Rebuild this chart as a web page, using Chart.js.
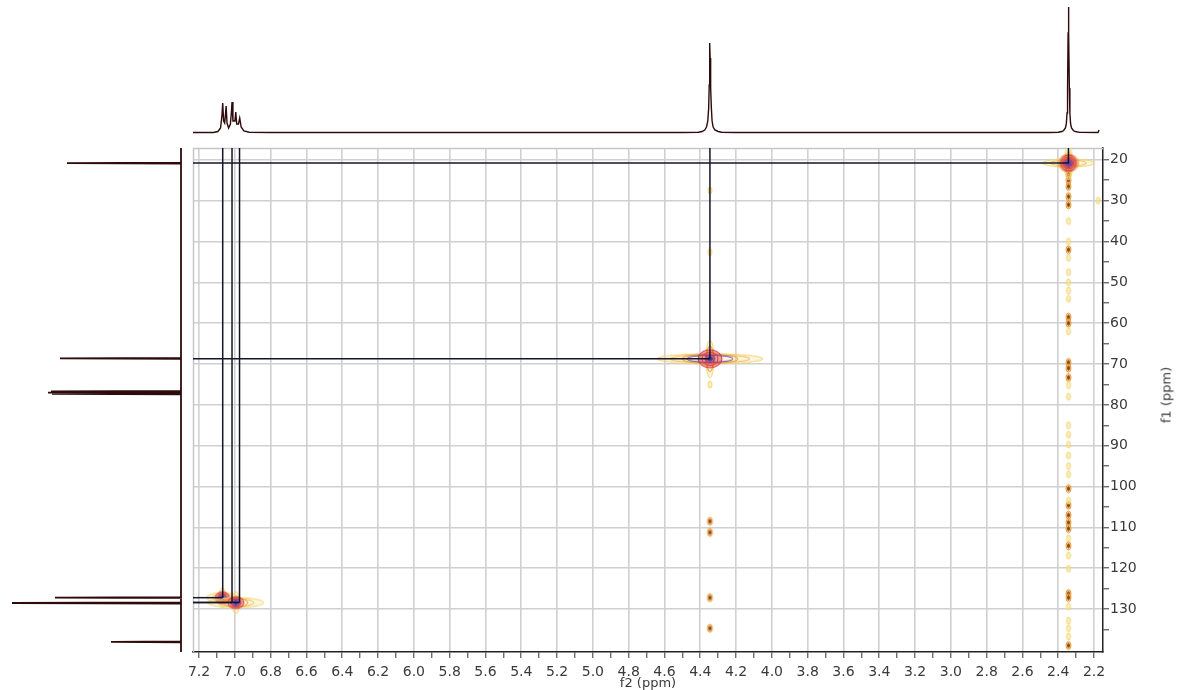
<!DOCTYPE html>
<html>
<head>
<meta charset="utf-8">
<script src="https://cdn.jsdelivr.net/npm/chart.js@4.4.1/dist/chart.umd.min.js"></script>
<style>
  html, body { margin: 0; padding: 0; background: #fff; }
  #wrap { position: relative; width: 1178px; height: 690px; overflow: hidden; }
  #wrap canvas { position: absolute; left: 0; top: 0; }
  #f1 { position: absolute; left: 1166px; top: 395px; transform: translate(-50%, -50%) rotate(-90deg);
        font: 13px "DejaVu Sans", sans-serif; color: #3a3a3a; white-space: nowrap; }
</style>
</head>
<body>
<div id="wrap">
  <canvas id="main" width="1178" height="690"></canvas>
  <canvas id="topSpec" width="1178" height="148"></canvas>
  <canvas id="leftSpec" width="193" height="690"></canvas>
  <div id="f1">f1 (ppm)</div>
</div>
<script>
// ---- axes (ppm) ----
const xMajor = [7.2, 7.0, 6.8, 6.6, 6.4, 6.2, 6.0, 5.8, 5.6, 5.4, 5.2, 5.0, 4.8, 4.6, 4.4, 4.2,
                4.0, 3.8, 3.6, 3.4, 3.2, 3.0, 2.8, 2.6, 2.4, 2.2]
const yMajor = [20, 30, 40, 50, 60, 70, 80, 90, 100, 110, 120, 130]
const X_MIN = 2.15, X_MAX = 7.234
const Y_MIN = 17.1, Y_MAX = 140.5

// ---- 1H projection (top): ppm / intensity ----
const hPpm = [7.234, 7.12, 7.095, 7.08, 7.072, 7.068, 7.063, 7.057, 7.052, 7.049, 7.044, 7.035, 7.025,
              7.019, 7.016, 7.011, 7.0, 6.995, 6.99, 6.98, 6.973, 6.965, 6.95, 6.92, 6.8,
              4.5, 4.41, 4.39, 4.375, 4.365, 4.358, 4.353, 4.350, 4.348, 4.3465, 4.345, 4.343, 4.341,
              4.338, 4.334, 4.328, 4.318, 4.30, 4.28, 4.2,
              2.45, 2.40, 2.38, 2.37, 2.36, 2.355, 2.351, 2.348, 2.345, 2.343, 2.341, 2.338, 2.335,
              2.331, 2.326, 2.316, 2.305, 2.28, 2.178, 2.172]
const hInt = [0.5, 0.5, 1.5, 5, 18, 30, 12, 10, 20, 27, 10, 5, 9,
              22, 31, 12, 12, 21, 9, 9, 15, 6, 2, 0.8, 0.5,
              0.5, 0.8, 1.5, 3, 6, 12, 25, 48, 75, 90, 75, 52, 45,
              25, 12, 6, 3, 1.5, 0.8, 0.5,
              0.5, 0.8, 1.5, 2.5, 5, 9, 20, 45, 100, 126, 100, 45, 20,
              9, 5, 2.5, 1.5, 0.6, 0.5, 3]

// ---- 13C projection (left) ----
const cPpm = [20.8, 68.6, 76.7, 77.0, 77.3, 127.2, 128.5, 138.0]
const cInt = [114, 121, 130, 133, 129, 126, 169, 70]

// ---- HSQC cross peaks ----
const peakH = [2.343, 4.346, 7.07, 6.995]
const peakC = [20.8, 68.7, 127.2, 128.4]

// correlation guide lines
const lineH = [2.343, 4.346, 7.068, 7.016, 6.974]
const lineC = [20.8, 68.7, 127.2, 128.4, 128.4]

// t1-noise streaks (13C ppm) along the methyl and CH2 columns
const streak234Faint = [35, 40, 44, 47.5, 50, 52, 54, 62, 75.2, 78, 85, 87.3, 89.7, 92.4, 95, 97,
                        103.4, 112.7, 116.9, 120.1, 129.4, 132.8, 134.7, 136.7]
const streak234Strong = [23.5, 25, 26.5, 29, 31, 42, 58.5, 60, 69.6, 71, 73.3, 100.5, 104.6, 107,
                         108.8, 110.3, 114.5, 126.2, 127.2, 138.9]
const streak435Faint = [27.5, 42.6, 75]
const streak435Strong = [108.5, 111.2, 127.2, 134.7]
const strayH = [2.177], strayC = [30]

// ---- helpers ----
const FONT = 'DejaVu Sans'
const SPEC = '#2e0a0a'

function withMinor(major, min, max) {
  const out = []
  const lo = Math.min(min, max), hi = Math.max(min, max)
  const step = major[1] - major[0]
  const before = +(major[0] - step / 2).toFixed(3)
  if (before >= lo && before <= hi) out.push({ value: before, minor: true })
  major.forEach((v, i) => {
    out.push({ value: v })
    const mid = i < major.length - 1 ? (v + major[i + 1]) / 2 : v + step / 2
    const m = +mid.toFixed(3)
    if (m >= lo && m <= hi) out.push({ value: m, minor: true })
  })
  return out
}

// contour sprite: list of [rx, ry, stroke, fill]
const YEL = '#f2d472', LOR = '#f0bb58', ORA = '#ea9438', RED = '#d8343a', MAG = '#b02f6c', PUR = '#6a3ea8', BLU = '#2b3dc2'
const fY = 'rgba(248,226,140,0.3)', fO = 'rgba(240,170,80,0.4)', fR = 'rgba(220,55,55,0.45)', fM = 'rgba(176,47,108,0.5)'
function sprite(levels) {
  let w = 0, h = 0
  levels.forEach(l => { w = Math.max(w, l[0]); h = Math.max(h, l[1]) })
  const c = document.createElement('canvas')
  c.width = Math.ceil(w * 2 + 4); c.height = Math.ceil(h * 2 + 4)
  const g = c.getContext('2d')
  const cx = c.width / 2, cy = c.height / 2
  levels.forEach(([rx, ry, stroke, fill]) => {
    g.beginPath()
    g.ellipse(cx, cy, rx, ry, 0, 0, Math.PI * 2)
    if (fill) { g.fillStyle = fill; g.fill() }
    g.strokeStyle = stroke; g.lineWidth = 1; g.stroke()
  })
  return c
}

const peakSprites = [
  sprite([[26, 4, YEL, fY], [4, 17, YEL, fY], [18, 3, LOR], [3, 12, LOR], [10, 9, ORA, fO],
          [8, 8, RED, fR], [6, 6, RED], [4.5, 4.5, MAG, fM], [3, 3, PUR], [1.5, 1.5, BLU, BLU]]),
  sprite([[53, 5, YEL, fY], [4, 19, YEL, fY], [40, 4, LOR], [28, 4.5, ORA], [3.5, 13, ORA],
          [12, 9, RED, fR], [23, 3.5, PUR], [8, 6.5, RED], [5, 4, MAG, fM], [2.5, 2, BLU, BLU]]),
  sprite([[16, 5, YEL, fY], [3.5, 10, YEL, fY], [10, 4, LOR], [7, 6, RED, fR], [4.5, 4, MAG, fM],
          [2.5, 2, PUR], [1.2, 1.2, BLU, BLU]]),
  sprite([[28, 5, YEL, fY], [4, 11, YEL, fY], [18, 4, LOR], [12, 4.5, ORA], [8, 6, RED, fR],
          [5, 4, MAG, fM], [3, 2.5, PUR], [1.5, 1.5, BLU, BLU]])
]
const faintDot = sprite([[2, 3.5, YEL, 'rgba(248,226,140,0.55)']])
const strongDot = sprite([[2.5, 4, ORA, 'rgba(240,200,100,0.6)'], [1, 2, '#8a4a10', '#8a4a10']])

const pts = (hs, cs) => cs.map((c, i) => ({ x: Array.isArray(hs) ? hs[i] : hs, y: c }))
const dotSet = (h, cs, style) => ({
  data: pts(h, cs), pointStyle: style, pointRadius: 3, showLine: false, order: 2
})

// ---- main 2D ----
const guideSets = []
lineH.forEach((h, i) => {
  guideSets.push({ data: [{ x: h, y: Y_MIN }, { x: h, y: lineC[i] }] })
  guideSets.push({ data: [{ x: X_MAX, y: lineC[i] }, { x: h, y: lineC[i] }] })
})
guideSets.forEach(d => Object.assign(d, {
  showLine: true, borderColor: '#15152a', borderWidth: 1.5, pointRadius: 0, order: 0
}))

const framePlugin = {
  id: 'frame',
  beforeDatasetsDraw(chart) {
    const { ctx, chartArea: a } = chart
    ctx.save()
    ctx.strokeStyle = '#c6c6c6'; ctx.lineWidth = 1.5
    ctx.beginPath()
    ctx.moveTo(a.left + 0.5, a.bottom); ctx.lineTo(a.left + 0.5, a.top + 0.5); ctx.lineTo(a.right, a.top + 0.5)
    ctx.stroke()
    ctx.restore()
  }
}

const gridColor = c => (c.tick && c.tick.minor ? 'rgba(0,0,0,0)' : '#d0d0d0')

new Chart(document.getElementById('main'), {
  type: 'scatter',
  data: {
    datasets: [
      ...guideSets,
      { data: pts(peakH, peakC), pointStyle: c => peakSprites[c.dataIndex], pointRadius: 10, order: 1 },
      dotSet(2.343, streak234Faint, faintDot),
      dotSet(2.343, streak234Strong, strongDot),
      dotSet(4.346, streak435Faint, faintDot),
      dotSet(4.346, streak435Strong, strongDot),
      dotSet(strayH, strayC, faintDot)
    ]
  },
  options: {
    responsive: false,
    animation: false,
    events: [],
    layout: { padding: { left: 193, top: 148, right: 0, bottom: 0 } },
    plugins: { legend: { display: false }, tooltip: { enabled: false } },
    scales: {
      x: {
        type: 'linear', position: 'bottom', reverse: true, min: X_MIN, max: X_MAX,
        afterBuildTicks: s => { s.ticks = withMinor(xMajor, X_MIN, X_MAX) },
        afterFit: s => { s.height = 38 },
        grid: { color: gridColor, lineWidth: 1.6, tickColor: '#333', tickWidth: 1, tickLength: 6 },
        border: { display: true, color: '#222', width: 1.5 },
        ticks: {
          autoSkip: false, maxRotation: 0, padding: 6, color: '#3a3a3a',
          font: { family: FONT, size: 14 },
          callback: (v, i, t) => (t[i].minor ? '' : v.toFixed(1))
        },
        title: { display: true, text: 'f2 (ppm)', color: '#3a3a3a', font: { family: FONT, size: 13, lineHeight: 1 }, padding: { top: 0, bottom: 0 } }
      },
      y: {
        type: 'linear', position: 'right', reverse: true, min: Y_MIN, max: Y_MAX,
        afterBuildTicks: s => { s.ticks = withMinor(yMajor, Y_MIN, Y_MAX) },
        afterFit: s => { s.width = 75 },
        grid: { color: gridColor, lineWidth: 1.6, tickColor: '#333', tickWidth: 1, tickLength: 6 },
        border: { display: true, color: '#222', width: 1.5 },
        ticks: {
          autoSkip: false, padding: 1, color: '#3a3a3a',
          font: { family: FONT, size: 14 },
          callback: (v, i, t) => (t[i].minor ? '' : String(v))
        }
      }
    }
  },
  plugins: [framePlugin]
})

// ---- top 1H trace ----
new Chart(document.getElementById('topSpec'), {
  type: 'scatter',
  data: {
    datasets: [{
      data: pts(hPpm, hInt), showLine: true, borderColor: SPEC, borderWidth: 1.4, pointRadius: 0
    }]
  },
  options: {
    responsive: false, animation: false, events: [],
    layout: { padding: { left: 193, right: 75, top: 0, bottom: 0 } },
    plugins: { legend: { display: false }, tooltip: { enabled: false } },
    scales: {
      x: { type: 'linear', reverse: true, min: X_MIN, max: X_MAX, display: false },
      y: { type: 'linear', min: -15, max: 133, display: false }
    }
  }
})

// ---- left 13C trace (sticks along f1) ----
const cTrace = [{ x: 0, y: Y_MIN }]
cPpm.forEach((p, i) => {
  cTrace.push({ x: 0, y: p - 0.12 }, { x: cInt[i], y: p }, { x: 0, y: p + 0.12 })
})
cTrace.push({ x: 0, y: Y_MAX })

new Chart(document.getElementById('leftSpec'), {
  type: 'scatter',
  data: {
    datasets: [{ data: cTrace, showLine: true, borderColor: SPEC, borderWidth: 1.8, pointRadius: 0 }]
  },
  options: {
    responsive: false, animation: false, events: [],
    layout: { padding: { left: 0, right: 0, top: 148, bottom: 38 } },
    plugins: { legend: { display: false }, tooltip: { enabled: false } },
    scales: {
      x: { type: 'linear', reverse: true, min: -12, max: 181, display: false },
      y: { type: 'linear', reverse: true, min: Y_MIN, max: Y_MAX, display: false }
    }
  }
})
</script>
</body>
</html>
